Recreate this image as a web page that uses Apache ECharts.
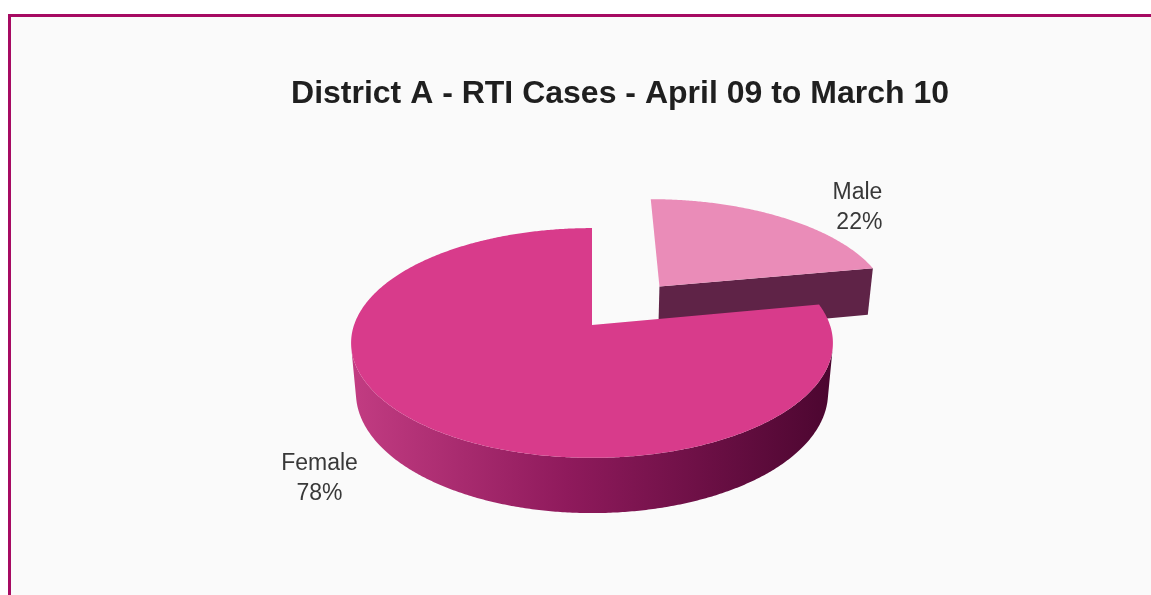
<!DOCTYPE html>
<html>
<head>
<meta charset="utf-8">
<script src="https://cdn.jsdelivr.net/npm/echarts@6/dist/echarts.min.js"></script>
<style>
  html, body { margin: 0; padding: 0; background: #ffffff; }
  #frame {
    position: absolute; left: 8px; top: 14px; right: 0; bottom: 0;
    border-left: 3px solid #a60a62; border-top: 3px solid #a60a62;
    background: #fafafa;
  }
  #chart { position: absolute; left: 0; top: 0; width: 1151px; height: 595px; }
</style>
</head>
<body>
<div id="frame"></div>
<div id="chart"></div>
<script>
// ---- data ----
const titleText = 'District A - RTI Cases - April 09 to March 10';
const categories = ['Female', 'Male'];
const values = [78, 22];
const pulledOut = [false, true];

// ---- look ----
const VIEW = {
  cx: 592, cy: 325,      // screen position of the pie centre (top face)
  focal: 1342,           // perspective focal length, px
  dist: 5.64,            // camera distance, in pie radii
  tilt: 28.1,            // camera elevation, degrees
  thick: 0.24,           // pie thickness, in pie radii
  pull: 0.47,            // explode distance, in pie radii
  startAngle: 90         // first slice starts at 12 o'clock, running counter-clockwise
};
const topColors = ['#d83b8b', '#ea8cb8'];
const sideColors = [
  { type: 'linear', x: 352, y: 0, x2: 830, y2: 0, global: true,
    colorStops: [
      { offset: 0, color: '#c23c82' },
      { offset: 0.45, color: '#8f1a5c' },
      { offset: 1, color: '#4c0630' }
    ] },
  '#5f2347'
];
const cutColors = ['#8f1a5c', '#5f2347'];
const labelStyle = [
  { dx: -100, dy: 55, align: 'center' },
  { dx: 101, dy: -10, align: 'right' }
];

const total = values.reduce((a, b) => a + b, 0);

function renderSlice(params, api) {
  const i = params.dataIndex;
  const f = VIEW.focal, D = VIEW.dist, h = VIEW.thick;
  const t = VIEW.tilt * Math.PI / 180;
  const s = Math.sin(t), c = Math.cos(t);
  const camZ = -D * c;   // camera position along Z (world)

  let before = 0;
  for (let k = 0; k < i; k++) before += values[k];
  const a0 = (VIEW.startAngle + before / total * 360) * Math.PI / 180;
  const a1 = a0 + api.value(1) / total * 2 * Math.PI;
  const mid = (a0 + a1) / 2;
  const ox = pulledOut[i] ? VIEW.pull * Math.cos(mid) : 0;
  const oz = pulledOut[i] ? VIEW.pull * Math.sin(mid) : 0;

  // world (X right, Z away from viewer, Y up) -> screen
  const P = (X, Z, Y) => {
    const up = Z * s + Y * c;
    const depth = D + Z * c - Y * s;
    return [VIEW.cx + f * X / depth, VIEW.cy - f * up / depth];
  };
  const rim = (a, Y) => P(ox + Math.cos(a), oz + Math.sin(a), Y);

  const steps = Math.max(8, Math.ceil((a1 - a0) / (Math.PI / 360)));
  const topArc = [], botArc = [], facing = [];
  for (let k = 0; k <= steps; k++) {
    const a = a0 + (a1 - a0) * k / steps;
    topArc.push(rim(a, 0));
    botArc.push(rim(a, -h));
    const px = ox + Math.cos(a), pz = oz + Math.sin(a);
    facing.push(-px * Math.cos(a) + (camZ - pz) * Math.sin(a) > 0);
  }
  const apexTop = P(ox, oz, 0), apexBot = P(ox, oz, -h);

  // farther slices are painted first
  const zb = Math.round(-oz * 100);
  const children = [];

  // curved outer wall: only the stretches that face the camera
  let runStart = -1;
  for (let k = 0; k <= steps + 1; k++) {
    const on = k <= steps && facing[k];
    if (on && runStart < 0) runStart = k;
    if (!on && runStart >= 0) {
      const top = topArc.slice(runStart, k), bot = botArc.slice(runStart, k).reverse();
      if (top.length > 1) {
        children.push({
          type: 'polygon', z2: zb + 1,
          shape: { points: top.concat(bot) },
          style: { fill: sideColors[i] }
        });
      }
      runStart = -1;
    }
  }
  // cut faces turned towards the viewer
  [0, steps].forEach(k => {
    const a = k === 0 ? a0 : a1;
    const nz = k === 0 ? -Math.cos(a) : Math.cos(a);
    if (-nz > 1e-6) {
      children.push({
        type: 'polygon', z2: zb + 1,
        shape: { points: [apexTop, topArc[k], botArc[k], apexBot] },
        style: { fill: cutColors[i] }
      });
    }
  });
  // top face
  children.push({
    type: 'polygon', z2: zb + 2,
    shape: { points: [apexTop].concat(topArc) },
    style: { fill: topColors[i] }
  });

  // label
  const edge = rim(mid, 0);
  const L = labelStyle[i];
  children.push({
    type: 'text', z2: 100,
    x: edge[0] + L.dx, y: edge[1] + L.dy,
    style: {
      text: categories[i] + '\n' + Math.round(api.value(1) / total * 100) + '%',
      align: L.align, verticalAlign: 'middle',
      fill: '#383838', lineHeight: 30,
      font: '23px "Liberation Sans", Arial, sans-serif'
    }
  });

  return { type: 'group', children: children };
}

const chart = echarts.init(document.getElementById('chart'), null, { renderer: 'canvas' });
chart.setOption({
  animation: false,
  backgroundColor: 'transparent',
  title: {
    text: titleText,
    left: 615, top: 73, textAlign: 'center',
    textStyle: { fontSize: 32, fontWeight: 'bold', color: '#1f1f1f', fontFamily: '"Liberation Sans", Arial, sans-serif' }
  },
  series: [{
    type: 'custom',
    coordinateSystem: 'none',
    renderItem: renderSlice,
    data: categories.map((name, i) => ({ name: name, value: [i, values[i]] }))
  }]
});
</script>
</body>
</html>
